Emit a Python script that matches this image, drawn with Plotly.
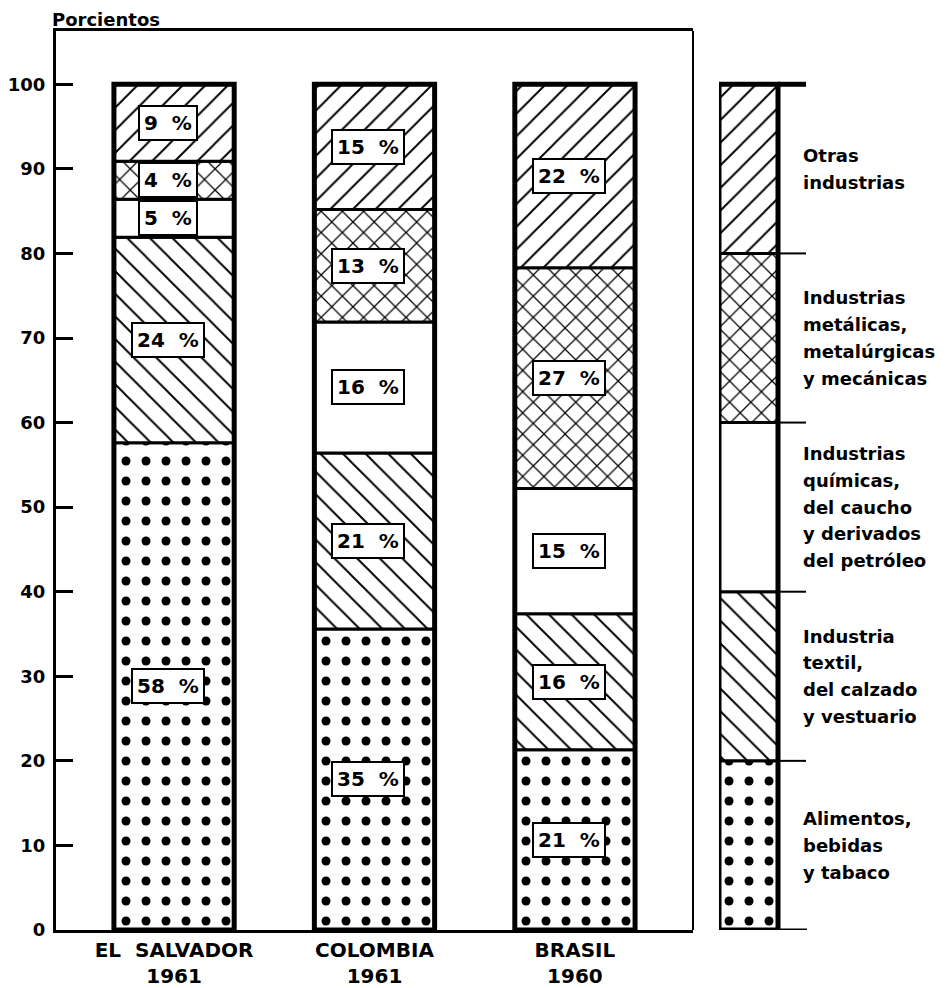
import plotly.graph_objects as go
import numpy as np

# ---------------- data ----------------
countries = ["EL  SALVADOR<br>1961", "COLOMBIA<br>1961", "BRASIL<br>1960"]
sectors = [
    "Alimentos,<br>bebidas<br>y tabaco",
    "Industria<br>textil,<br>del calzado<br>y vestuario",
    "Industrias<br>químicas,<br>del caucho<br>y derivados<br>del petróleo",
    "Industrias<br>metálicas,<br>metalúrgicas<br>y mecánicas",
    "Otras<br>industrias",
]
# share of each sector (bottom -> top)
el_salvador = [57.6, 24.3, 4.5, 4.5, 9.1]
colombia = [35.6, 20.8, 15.5, 13.3, 14.8]
brasil = [21.3, 16.1, 14.8, 26.1, 21.7]
# printed labels
el_salvador_labels = ["58 %", "24 %", "5 %", "4 %", "9 %"]
colombia_labels = ["35 %", "21 %", "16 %", "13 %", "15 %"]
brasil_labels = ["21 %", "16 %", "15 %", "27 %", "22 %"]
legend_segments = [20, 20, 20, 20, 20]
y_ticks = [0, 10, 20, 30, 40, 50, 60, 70, 80, 90, 100]

# ---------------- styles ----------------
FONT = "DejaVu Sans"
patterns = [
    dict(shape=".", size=20, solidity=0.16),
    dict(shape="\\", size=16, solidity=0.12),
    dict(shape="", size=10, solidity=0.1),
    dict(shape="x", size=15, solidity=0.16),
    dict(shape="/", size=16, solidity=0.12),
]

values = np.array([el_salvador, colombia, brasil])  # country x sector
labels = [el_salvador_labels, colombia_labels, brasil_labels]
xpos = np.arange(len(countries))
bar_w = 0.6

fig = go.Figure()
bases = np.zeros(len(countries))
for s in range(len(sectors)):
    vals = values[:, s]
    fig.add_trace(go.Bar(
        x=xpos, y=vals, base=bases.copy(), width=bar_w,
        marker=dict(color="white",
                    pattern=dict(fgcolor="black", bgcolor="white", fillmode="replace", **patterns[s]),
                    line=dict(color="black", width=3)),
        showlegend=False, hoverinfo="skip", xaxis="x", yaxis="y"))
    for c in range(len(countries)):
        fig.add_annotation(
            x=xpos[c] - 0.03, y=bases[c] + vals[c] / 2, xref="x", yref="y",
            text=labels[c][s].replace(" ", "&nbsp;&nbsp;"), showarrow=False,
            font=dict(family=FONT, size=20, color="black", weight="bold"),
            bgcolor="white", bordercolor="black", borderwidth=2, borderpad=4)
    bases = bases + vals

# thick outer outline
fig.add_trace(go.Bar(
    x=xpos, y=bases, base=np.zeros(len(countries)), width=bar_w,
    marker=dict(color="rgba(0,0,0,0)", line=dict(color="black", width=5)),
    showlegend=False, hoverinfo="skip", xaxis="x", yaxis="y"))

# ---------------- key bar ----------------
key_bar_w = 59
key_total = 88
LINE_H = 26.7
lb = 0
for s in range(len(sectors)):
    v = legend_segments[s]
    fig.add_trace(go.Bar(
        x=[key_bar_w / 2], y=[v], base=[lb], width=[key_bar_w],
        marker=dict(color="white",
                    pattern=dict(fgcolor="black", bgcolor="white", fillmode="replace", **patterns[s]),
                    line=dict(color="black", width=3)),
        showlegend=False, hoverinfo="skip", xaxis="x2", yaxis="y2"))
    top = lb + v
    fig.add_shape(type="line", xref="x2", yref="y2", x0=key_bar_w, x1=key_total - 1,
                  y0=top, y1=top, line=dict(color="black", width=5 if s == len(sectors) - 1 else 2))
    lines = sectors[s].split("<br>")
    n = len(lines)
    for i, ln in enumerate(lines):
        fig.add_annotation(x=82, y=lb + v / 2, xref="x2", yref="y2", text=ln,
                           showarrow=False, xanchor="left", yanchor="middle", align="left",
                           yshift=((n - 1) / 2 - i) * LINE_H,
                           font=dict(family=FONT, size=18, color="black", weight="bold"))
    lb = top
fig.add_trace(go.Bar(
    x=[key_bar_w / 2], y=[sum(legend_segments)], base=[0], width=[key_bar_w],
    marker=dict(color="rgba(0,0,0,0)", line=dict(color="black", width=5)),
    showlegend=False, hoverinfo="skip", xaxis="x2", yaxis="y2"))
fig.add_shape(type="line", xref="x2", yref="y2", x0=0, x1=key_total, y0=0, y1=0,
              line=dict(color="black", width=3))

# thin right frame line of main panel
fig.add_shape(type="line", xref="x domain", yref="y domain", x0=1, x1=1, y0=0, y1=1,
              line=dict(color="black", width=2))

# the page offsets the figure slightly, so figure coords = page coords - OFF
OFF = 7
W, H = 947 - OFF, 988 - OFF
ml, mt = 55 - OFF, 30 - OFF
mb = H - (929 - OFF)
mr = W - (806 - OFF)
pw = W - ml - mr
ph = H - mt - mb
main_right = (692 - OFF - ml) / pw
key_left = (718 - OFF - ml) / pw

fig.add_annotation(x=(50 - OFF - ml) / pw, y=1 + (30 - 18) / ph, xref="paper", yref="paper",
                   text="Porcientos", showarrow=False, xanchor="left", yanchor="middle",
                   borderpad=0,
                   font=dict(family=FONT, size=18, color="black", weight="bold"))

fig.update_layout(
    width=W, height=H, margin=dict(l=ml, r=mr, t=mt, b=mb, autoexpand=False),
    paper_bgcolor="white", plot_bgcolor="white", barmode="overlay",
    font=dict(family=FONT, color="black"),
    xaxis=dict(domain=[0, main_right], range=[-0.589, 2.589], tickvals=xpos,
               ticktext=[c.replace("  ", "&nbsp; ") for c in countries],
               showline=True, linecolor="black", linewidth=3, mirror=True, ticks="",
               showgrid=False, zeroline=False, automargin=False,
               tickfont=dict(family=FONT, size=20, color="black", weight="bold")),
    yaxis=dict(range=[0, 106.3], tickvals=y_ticks, ticks="inside", ticklen=17, tickwidth=3,
               tickcolor="black", showline=True, linecolor="black", linewidth=3, mirror=False,
               showgrid=False, zeroline=False, ticklabelstandoff=4, automargin=False,
               tickfont=dict(family=FONT, size=18, color="black", weight="bold")),
    xaxis2=dict(domain=[key_left, 1], range=[0, key_total], visible=False, anchor="y2"),
    yaxis2=dict(range=[0, 106.3], visible=False, anchor="x2", domain=[0, 1]),
)

fig.write_html("out.html")
